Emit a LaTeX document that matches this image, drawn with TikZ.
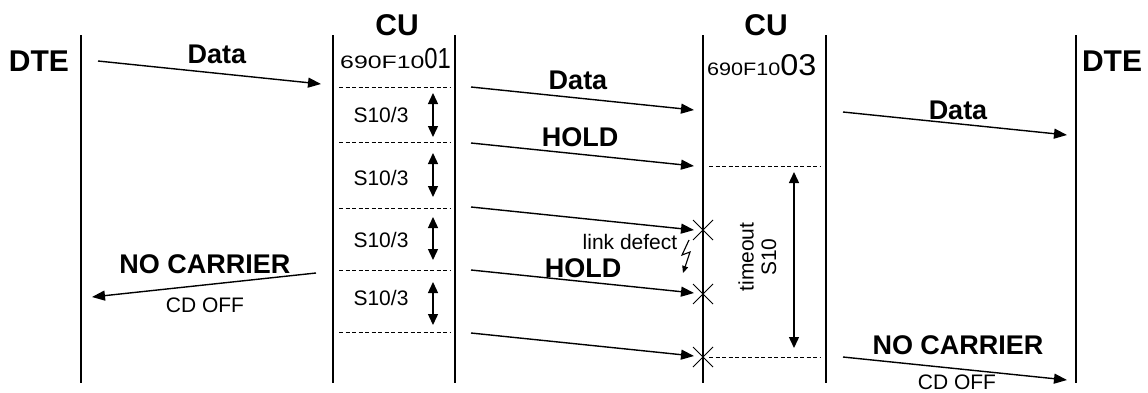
\documentclass[tikz,border=0pt]{standalone}
\usepackage{fontspec}
\setmainfont{Liberation Sans}
\usetikzlibrary{arrows.meta}
\tikzset{
  life/.style={line width=1.9pt},
  msg/.style={line width=1.4pt,-{Triangle[length=13pt,width=10pt]}},
  dbl/.style={line width=1.4pt,{Triangle[length=11pt,width=10pt]}-{Triangle[length=11pt,width=10pt]}},
  sep/.style={line width=1pt,dash pattern=on 4pt off 2.5pt},
  xmark/.style={line width=1pt},
  big/.style={inner sep=0pt,font=\fontsize{30}{30}\selectfont\bfseries},
  blab/.style={inner sep=0pt,font=\fontsize{27}{27}\selectfont\bfseries},
  nlab/.style={inner sep=0pt,font=\fontsize{21}{21}\selectfont},
}
\begin{document}
\begin{tikzpicture}[x=1pt,y=-1pt]
\useasboundingbox (0,0) rectangle (1148,392);
% lifelines
\foreach \n/\x in {A/81,B/333,C/455,D/703,E/826,F/1076}{
  \coordinate (\n t) at (\x,35);
  \coordinate (\n b) at (\x,383);
  \draw[life] (\n t) -- (\n b);
}
% headings
\node[big] (dteL) at (39,61) {DTE};
\node[big] (dteR) at (1112,61) {DTE};
\node[big] (cu1) at (397,25) {CU};
\node[big] (cu2) at (766,25) {CU};
\node[inner sep=0pt,anchor=base west] (id1) at (340,68) {\fontsize{18}{18}\selectfont\scalebox{1.38}[1]{690F10}\fontsize{29}{29}\selectfont\scalebox{0.82}[1]{01}};
\node[inner sep=0pt,anchor=base west] (id2) at (707,75) {\fontsize{18}{18}\selectfont\scalebox{1.2}[1]{690F10}\fontsize{30}{30}\selectfont\scalebox{1.08}[1]{03}};
% separators in CU1
\foreach \i/\y in {1/87,2/142,3/208,4/270,5/332}{
  \coordinate (s\i l) at (339,\y);
  \coordinate (s\i r) at (450,\y);
  \draw[sep] (s\i l) -- (s\i r);
}
% separators in CU2
\coordinate (t1l) at (709,166); \coordinate (t1r) at (821,166);
\coordinate (t2l) at (709,357); \coordinate (t2r) at (821,357);
\draw[sep] (t1l) -- (t1r);
\draw[sep] (t2l) -- (t2r);
% S10/3 labels and double arrows
\foreach \i/\y/\a/\b in {1/115/93/137,2/178/153/197,3/240/217/260,4/298/282/325}{
  \node[nlab] (sl\i) at (381,\y) {S10/3};
  \coordinate (da\i) at (433,\a);
  \coordinate (db\i) at (433,\b);
  \draw[dbl] (da\i) -- (db\i);
}
% left DTE -> CU1 Data
\coordinate (m0s) at (98,61); \coordinate (m0e) at (321,84);
\draw[msg] (m0s) -- (m0e);
\node[blab] (lData0) at (217,54) {Data};
% CU1 -> CU2 messages
\foreach \i/\y in {1/87,2/143,3/207,4/270,5/333}{
  \coordinate (m\i s) at (471,\y);
  \coordinate (m\i e) at (694,\y+23);
  \draw[msg] (m\i s) -- (m\i e);
}
\node[blab] (lData1) at (578,80) {Data};
\node[blab] (lHold1) at (580,137) {HOLD};
\node[blab] (lHold2) at (583,268) {HOLD};
\node[nlab] (lLink) at (630,242) {link defect};
% X marks
\foreach \i/\y in {1/230,2/294,3/357}{
  \coordinate (x\i a) at (693,\y-10); \coordinate (x\i b) at (713,\y+10);
  \coordinate (x\i c) at (693,\y+10); \coordinate (x\i d) at (713,\y-10);
  \draw[xmark] (x\i a) -- (x\i b);
  \draw[xmark] (x\i c) -- (x\i d);
}
% lightning
\coordinate (z1) at (689,240); \coordinate (z2) at (682,255);
\coordinate (z3) at (690,252); \coordinate (z4) at (683,273);
\draw[line width=1.1pt,-{Triangle[length=7pt,width=6pt]}] (z1) -- (z2) -- (z3) -- (z4);
% timeout
\coordinate (toa) at (794,172); \coordinate (tob) at (794,348);
\draw[dbl] (toa) -- (tob);
\node[nlab,rotate=90] (lTimeout) at (746,257) {timeout};
\node[nlab,rotate=90] (lS10) at (769,257) {S10};
% right CU2 -> DTE
\coordinate (r1s) at (843,112); \coordinate (r1e) at (1067,135);
\draw[msg] (r1s) -- (r1e);
\node[blab] (lData2) at (958,110) {Data};
\coordinate (r2s) at (843,357); \coordinate (r2e) at (1067,380);
\draw[msg] (r2s) -- (r2e);
\node[blab] (lNC2) at (958,345) {NO CARRIER};
\node[nlab] (lCD2) at (957,382) {CD OFF};
% left NO CARRIER
\coordinate (n1s) at (316,273); \coordinate (n1e) at (92,297);
\draw[msg] (n1s) -- (n1e);
\node[blab] (lNC1) at (205,264) {NO CARRIER};
\node[nlab] (lCD1) at (205,305) {CD OFF};
\end{tikzpicture}
\end{document}
